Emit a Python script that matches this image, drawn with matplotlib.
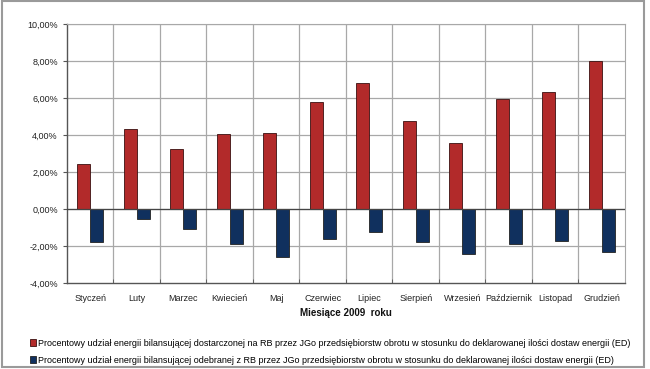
import numpy as np
import matplotlib.pyplot as plt
from matplotlib.patches import Rectangle
from matplotlib.ticker import FuncFormatter

plt.rcParams['font.family'] = ['Liberation Sans', 'DejaVu Sans']

# Dane
miesiace = ["Styczeń", "Luty", "Marzec", "Kwiecień", "Maj", "Czerwiec", "Lipiec",
            "Sierpień", "Wrzesień", "Październik", "Listopad", "Grudzień"]
dostarczona = [2.45, 4.35, 3.27, 4.06, 4.09, 5.81, 6.79, 4.78, 3.56, 5.97, 6.30, 7.98]
odebrana = [-1.76, -0.52, -1.06, -1.90, -2.62, -1.64, -1.24, -1.79, -2.44, -1.90, -1.75, -2.33]

etykieta_ed = ("Procentowy udział energii bilansującej dostarczonej na RB przez JGo "
               "przedsiębiorstw obrotu w stosunku do deklarowanej ilości dostaw energii (ED)")
etykieta_eo = ("Procentowy udział energii bilansującej odebranej z RB przez JGo "
               "przedsiębiorstw obrotu w stosunku do deklarowanej ilości dostaw energii (ED)")

kolor_ed = "#b22a2a"
kolor_eo = "#10305e"

fig = plt.figure(figsize=(6.5, 3.69), dpi=100)
ax = fig.add_axes([0.103, 0.233, 0.8585, 0.702])

x = np.arange(len(miesiace))
w = 0.28
ax.bar(x - w / 2, dostarczona, w, color=kolor_ed, edgecolor="#3a1010", linewidth=0.6,
       label=etykieta_ed, zorder=3)
ax.bar(x + w / 2, odebrana, w, color=kolor_eo, edgecolor="#222222", linewidth=0.6,
       label=etykieta_eo, zorder=3)

ax.set_xlim(-0.5, len(miesiace) - 0.5)
ax.set_ylim(-4, 10)
ax.set_yticks(np.arange(-4, 10.1, 2))
ax.yaxis.set_major_formatter(FuncFormatter(lambda v, p: f"{v:.2f}%".replace(".", ",")))

# siatka: poziome linie co 2%, pionowe na granicach kategorii
for yv in np.arange(-2, 10.1, 2):
    ax.axhline(yv, color="#a8a8a8", linewidth=0.9, zorder=1)
for xv in np.arange(0.5, len(miesiace) - 0.5, 1):
    ax.axvline(xv, color="#a8a8a8", linewidth=0.9, zorder=1)
ax.axhline(0, color="#444444", linewidth=0.9, zorder=4)

ax.set_xticks(x)
ax.set_xticklabels(miesiace)
ax.set_xticks(np.arange(-0.5, len(miesiace), 1), minor=True)
ax.tick_params(axis="x", which="major", length=0, labelsize=6.5, pad=8, colors="#222222")
ax.tick_params(axis="x", which="minor", length=3, direction="in", color="#555555")
ax.tick_params(axis="y", labelsize=6.5, length=3, color="#555555", colors="#222222")

for s in ["top", "right"]:
    ax.spines[s].set_color("#a8a8a8")
for s in ["left", "bottom"]:
    ax.spines[s].set_color("#555555")
    ax.spines[s].set_linewidth(1.0)

fig.text(346 / 650, 1 - 313 / 369, "Miesiące 2009  roku", ha="center", va="center",
         fontsize=7, fontweight="bold", color="#111111")

fig.legend(loc="upper left", bbox_to_anchor=(0.04, 1 - 335 / 369), frameon=False,
           fontsize=6.5, handlelength=0.7, handleheight=0.7, handletextpad=0.2,
           labelspacing=0.9, borderaxespad=0)

fig.patches.append(Rectangle((0.003, 0.006), 0.988, 0.99, transform=fig.transFigure,
                             fill=False, edgecolor="#9a9a9a", linewidth=1.5))

fig.savefig("out.png", dpi=100)
